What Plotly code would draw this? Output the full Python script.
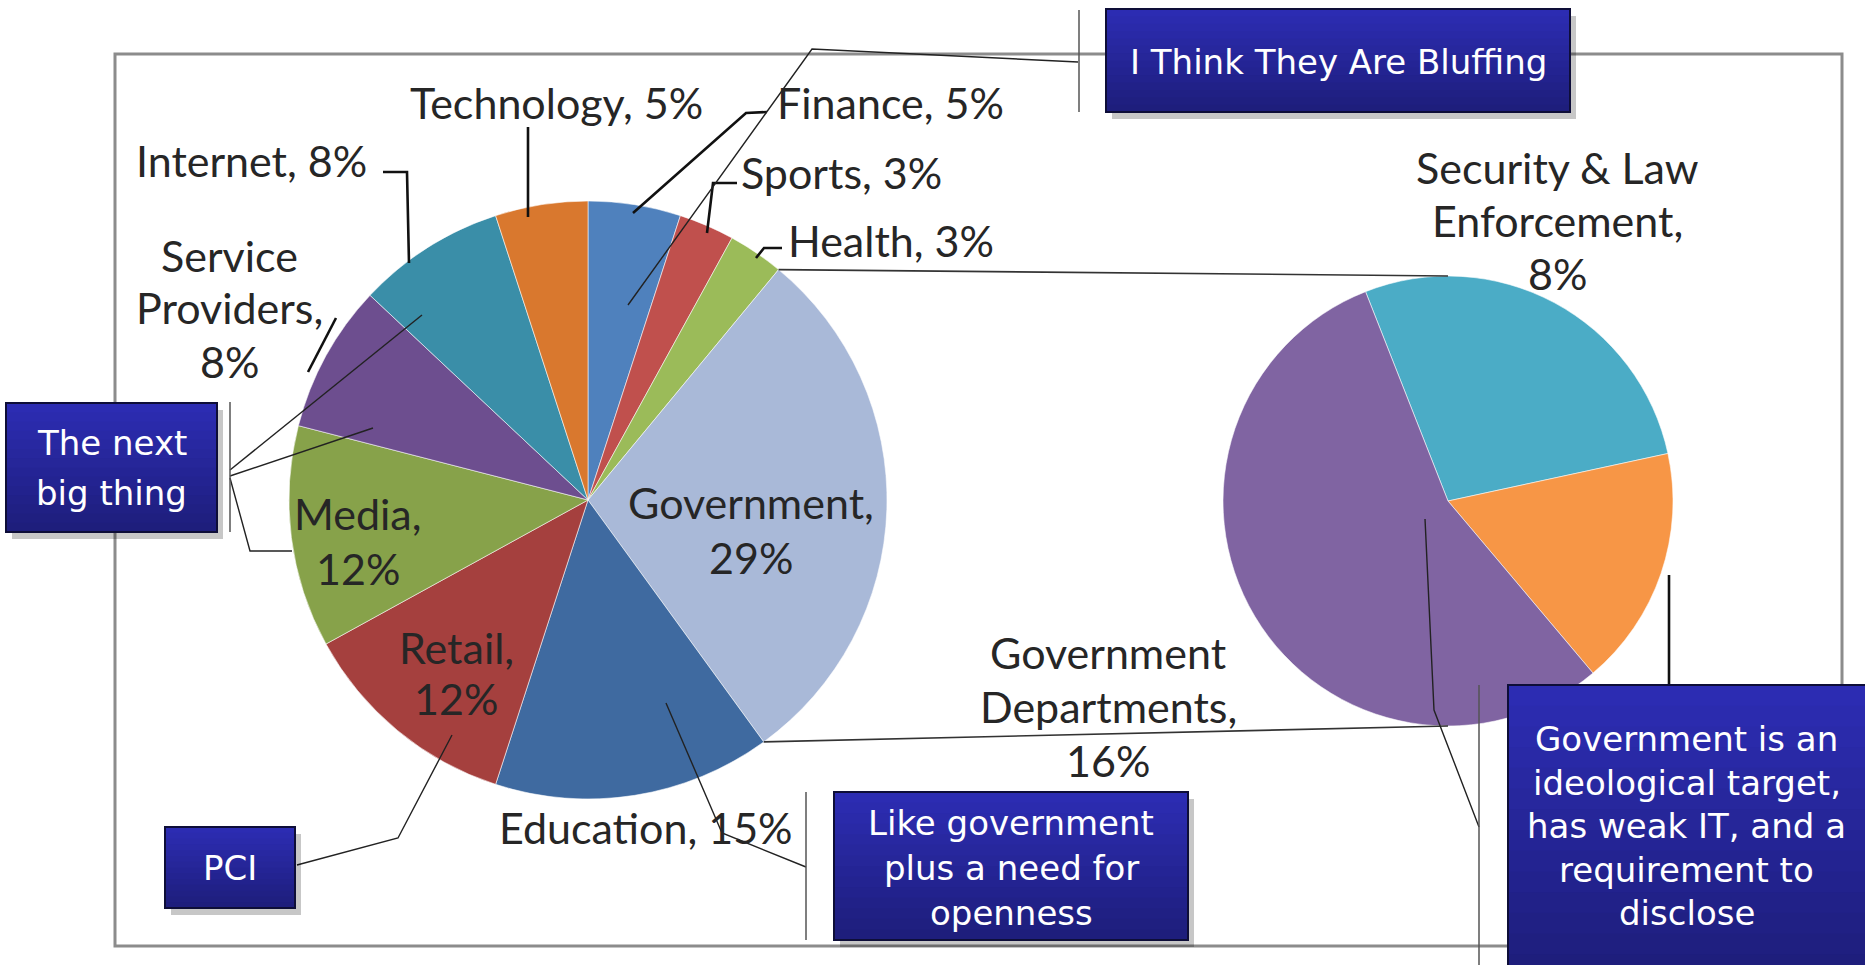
import plotly.graph_objects as go
import math

W, H = 1865, 965

# ---------------- data ----------------
main_names = ["Finance", "Sports", "Health", "Government", "Education",
              "Retail", "Media", "Service Providers", "Internet", "Technology"]
main_values = [5, 3, 3, 29, 15, 12, 12, 8, 8, 5]
main_colors = ["#4F81BD", "#C0504D", "#9BBB59", "#A9B9D8", "#3F6AA0",
               "#A5403E", "#87A24A", "#6D4E8F", "#3A8EA8", "#D9782E"]

sub_names = ["Security & Law Enforcement", "Other", "Government Departments"]
sub_values = [8, 5, 16]
sub_colors = ["#4BACC6", "#F79646", "#8064A2"]

callouts = [
    ["I Think They Are Bluffing"],
    ["The next", "big thing"],
    ["PCI"],
    ["Like government", "plus a need for", "openness"],
    ["Government is an", "ideological target,", "has weak IT, and a", "requirement to", "disclose"],
]

# ---------------- layout constants (pixels) ----------------
MAIN_C, MAIN_R = (588, 500), 299
SUB_C, SUB_R = (1448, 501), 225
SUB_ROT = -21.5

LABEL_FONT = dict(family="Lato, Carlito, sans-serif", size=43, color="#262626")
BOX_FONT = dict(family="DejaVu Sans, Tahoma, sans-serif", size=34, color="#FFFFFF")

# name -> (center x, first line y, split mode, line spacing)
label_pos = {
    "Technology": (556, 102, None, 0),
    "Finance": (890, 102, None, 0),
    "Sports": (841, 172, None, 0),
    "Health": (891, 240, None, 0),
    "Internet": (251, 160, None, 0),
    "Service Providers": (229, 255, 1, 53),
    "Media": (358, 513, 0, 55),
    "Retail": (456, 647, 0, 51),
    "Government": (751, 502, 0, 55),
    "Education": (646, 827, None, 0),
    "Government Departments": (1108, 652, 1, 54),
    "Security & Law Enforcement": (1557, 167, 3, 53),
}

# boxes: (x0, y0, x1, y1, first line y, line spacing)
box_geom = [
    (1106, 9, 1570, 112, 62, 0),
    (6, 403, 217, 532, 443, 50),
    (165, 827, 295, 908, 868, 0),
    (834, 792, 1188, 940, 823, 45),
    (1508, 685, 1870, 975, 739, 43.5),
]
box_bars = [(1079, 10, 112), (230, 402, 532), (806, 792, 940), (1479, 685, 965)]

callout_paths = [
    [(1078, 62), (812, 49), (628, 305)],
    [(422, 315), (230, 470)],
    [(373, 428), (230, 476)],
    [(230, 478), (250, 551), (292, 551)],
    [(297, 865), (398, 838), (452, 735)],
    [(666, 703), (722, 833), (806, 867)],
    [(1425, 519), (1434, 710), (1479, 827)],
]
leader_paths = [
    [(528, 127), (528, 217)],
    [(767, 112), (746, 113), (633, 213)],
    [(737, 183), (713, 183), (707, 233)],
    [(782, 248), (764, 248), (756, 258)],
    [(383, 172), (407, 172), (409, 263)],
    [(336, 318), (308, 372)],
    [(1669, 575), (1669, 685)],
]


def fx(x):
    return x / W


def fy(y):
    return 1 - y / H


def domain(c, r):
    return dict(x=[fx(c[0] - r), fx(c[0] + r)], y=[fy(c[1] + r), fy(c[1] - r)])


def path_str(pts):
    return " ".join(("M" if i == 0 else "L") + f" {fx(x):.5f},{fy(y):.5f}" for i, (x, y) in enumerate(pts))


def label_lines(name, val, split):
    pct = f"{val}%"
    if split is None:
        return [f"{name}, {pct}"]
    if split == 0:
        return [f"{name},", pct]
    words = name.split()
    return [" ".join(words[:split]), " ".join(words[split:]) + ",", pct]


fig = go.Figure()
fig.add_trace(go.Pie(
    values=main_values, labels=main_names, sort=False, direction="clockwise",
    rotation=0, textinfo="none", hoverinfo="label+percent",
    marker=dict(colors=main_colors, line=dict(color="rgba(255,255,255,0.55)", width=1)),
    domain=domain(MAIN_C, MAIN_R), showlegend=False))
fig.add_trace(go.Pie(
    values=sub_values, labels=sub_names, sort=False, direction="clockwise",
    rotation=SUB_ROT, textinfo="none", hoverinfo="label+value",
    marker=dict(colors=sub_colors, line=dict(color="rgba(255,255,255,0.55)", width=1)),
    domain=domain(SUB_C, SUB_R), showlegend=False))

shapes = []
# outer frame
shapes.append(dict(type="rect", xref="paper", yref="paper", x0=fx(115), x1=fx(1842), y0=fy(54), y1=fy(946),
                   line=dict(color="#8C8C8C", width=3), layer="below"))

# pie-of-pie connectors computed from the Government slice
total = sum(main_values)
gi = main_names.index("Government")
a0 = 2 * math.pi * sum(main_values[:gi]) / total
a1 = a0 + 2 * math.pi * main_values[gi] / total


def on_main(a):
    return (MAIN_C[0] + MAIN_R * math.sin(a), MAIN_C[1] - MAIN_R * math.cos(a))


p_top, p_bot = on_main(a0), on_main(a1)
shapes.append(dict(type="path", xref="paper", yref="paper", path=path_str([p_top, (SUB_C[0], SUB_C[1] - SUB_R)]),
                   line=dict(color="#333333", width=1.6), layer="above"))
shapes.append(dict(type="path", xref="paper", yref="paper", path=path_str([p_bot, (SUB_C[0], SUB_C[1] + SUB_R)]),
                   line=dict(color="#333333", width=1.6), layer="above"))

for pts in leader_paths:
    shapes.append(dict(type="path", xref="paper", yref="paper", path=path_str(pts),
                       line=dict(color="#111111", width=2.6), layer="above"))
for pts in callout_paths:
    shapes.append(dict(type="path", xref="paper", yref="paper", path=path_str(pts),
                       line=dict(color="#222222", width=1.4), layer="above"))
for (x, ya, yb) in box_bars:
    shapes.append(dict(type="line", xref="paper", yref="paper", x0=fx(x), x1=fx(x), y0=fy(ya), y1=fy(yb),
                       line=dict(color="#555555", width=1.5), layer="above"))


def lerp_col(c0, c1, t):
    a = [int(c0[i:i + 2], 16) for i in (1, 3, 5)]
    b = [int(c1[i:i + 2], 16) for i in (1, 3, 5)]
    return "#" + "".join(f"{round(a[k] + (b[k] - a[k]) * t):02X}" for k in range(3))


N = 14
for (x0, y0, x1, y1, _, _) in box_geom:
    shapes.append(dict(type="rect", xref="paper", yref="paper", x0=fx(x0 + 6), x1=fx(x1 + 6), y0=fy(y0 + 7),
                       y1=fy(y1 + 7), fillcolor="rgba(0,0,0,0.22)", line=dict(width=0), layer="above"))
    for k in range(N):
        ya = y0 + (y1 - y0) * k / N
        yb = y0 + (y1 - y0) * (k + 1) / N + 0.8
        shapes.append(dict(type="rect", xref="paper", yref="paper", x0=fx(x0), x1=fx(x1), y0=fy(ya), y1=fy(yb),
                           fillcolor=lerp_col("#2C2CB2", "#1E1E7C", k / (N - 1)), line=dict(width=0),
                           layer="above"))
    shapes.append(dict(type="rect", xref="paper", yref="paper", x0=fx(x0), x1=fx(x1), y0=fy(y0), y1=fy(y1),
                       line=dict(color="#0E0E38", width=2), layer="above"))

annotations = []
all_names = main_names + sub_names
all_values = main_values + sub_values
for name, val in zip(all_names, all_values):
    if name not in label_pos:
        continue
    x, y, split, sp = label_pos[name]
    for i, line in enumerate(label_lines(name, val, split)):
        annotations.append(dict(x=fx(x), y=fy(y + i * sp), xref="paper", yref="paper", text=line,
                                showarrow=False, xanchor="center", yanchor="middle", font=LABEL_FONT))

for lines, (x0, y0, x1, y1, ly, sp) in zip(callouts, box_geom):
    cx = (x0 + min(x1, W)) / 2
    for i, line in enumerate(lines):
        annotations.append(dict(x=fx(cx), y=fy(ly + i * sp), xref="paper", yref="paper", text=line,
                                showarrow=False, xanchor="center", yanchor="middle", font=BOX_FONT))

fig.update_layout(width=W, height=H, margin=dict(l=0, r=0, t=0, b=0), paper_bgcolor="white",
                  plot_bgcolor="white", showlegend=False, shapes=shapes, annotations=annotations)

fig.write_html("out.html")
